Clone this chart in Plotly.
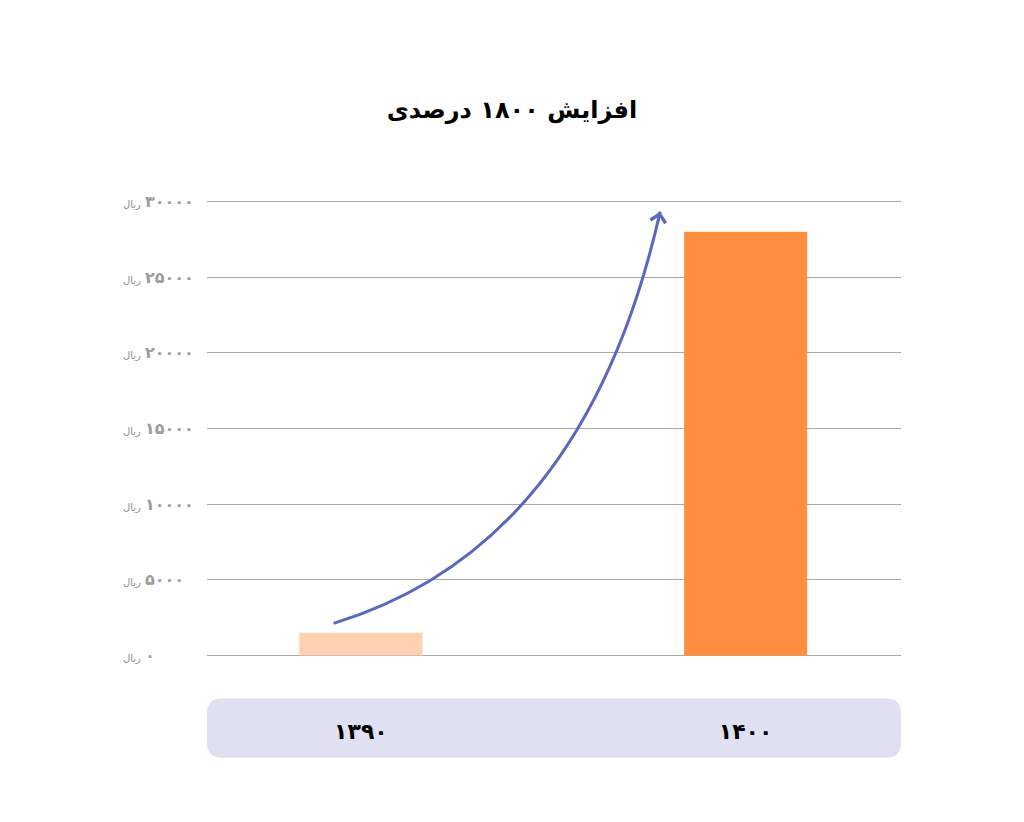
import plotly.graph_objects as go

# ---- data ----
categories = ["۱۳۹۰", "۱۴۰۰"]
values = [1500, 28000]
bar_colors = ["#ffd1b0", "#ff8f3e"]
y_tickvals = [0, 5000, 10000, 15000, 20000, 25000, 30000]
y_ticknums = ["۰", "۵۰۰۰", "۱۰۰۰۰", "۱۵۰۰۰", "۲۰۰۰۰", "۲۵۰۰۰", "۳۰۰۰۰"]
title_text = "افزایش ۱۸۰۰ درصدی"
unit = "ریال"

# arrow (decoration) in data units: start, control, end
arrow_x = [-0.071, 0.581, 0.778]
arrow_y = [2120, 7150, 29330]

W, H = 1024, 822
L, R = 207, 901
Y0PX, Y30PX = 655, 202
pad = 300
ppu = (Y0PX - Y30PX) / 30000
top = Y30PX - pad * ppu
bot = Y0PX + pad * ppu
ph = bot - top
pw = R - L

fig = go.Figure()
fig.add_trace(go.Bar(
    x=list(range(len(categories))), y=values,
    marker=dict(color=bar_colors, line=dict(width=0)),
    width=0.32, hoverinfo="skip",
))

def py(px):
    return (bot - px) / ph

def pxx(px):
    return (px - L) / pw

# y tick labels (left aligned): unit + number
for v, n in zip(y_tickvals, y_ticknums):
    fig.add_annotation(x=pxx(143), y=v, xref="paper", yref="y", text=f"<b>{n}</b>",
                       showarrow=False, xanchor="left", yanchor="middle",
                       font=dict(family="DejaVu Sans", size=16, color="#9c9c9c"))
    fig.add_annotation(x=pxx(121), y=v, xref="paper", yref="y", text=unit,
                       showarrow=False, xanchor="left", yanchor="middle", yshift=-3,
                       font=dict(family="DejaVu Sans", size=10, color="#8c8c8c"))

# rounded label band
x0, x1 = 0.0, 1.0
yt, yb = py(698), py(757)
rx = 15 / pw
ry = 15 / ph
path = (f"M{x0+rx},{yt} L{x1-rx},{yt} Q{x1},{yt} {x1},{yt-ry} "
        f"L{x1},{yb+ry} Q{x1},{yb} {x1-rx},{yb} L{x0+rx},{yb} "
        f"Q{x0},{yb} {x0},{yb+ry} L{x0},{yt-ry} Q{x0},{yt} {x0+rx},{yt} Z")
fig.add_shape(type="path", path=path, xref="paper", yref="paper",
              fillcolor="#dfe1f0", line=dict(width=0), layer="below")

# curved arrow
fig.add_shape(type="path", xref="x", yref="y",
              path=f"M{arrow_x[0]},{arrow_y[0]} Q{arrow_x[1]},{arrow_y[1]} {arrow_x[2]},{arrow_y[2]}",
              line=dict(color="#5a67bf", width=3))
fig.add_annotation(x=arrow_x[2], y=arrow_y[2], xref="x", yref="y",
                   ax=-3, ay=14, axref="pixel", ayref="pixel",
                   showarrow=True, arrowhead=4, arrowsize=1.2, arrowwidth=2.5,
                   arrowcolor="#5a67bf", text="")

fig.update_layout(
    width=W, height=H,
    margin=dict(l=L, r=W - R, t=top, b=H - bot, pad=0),
    paper_bgcolor="white", plot_bgcolor="white",
    showlegend=False,
    title=dict(text=f"<b>{title_text}</b>", x=0.5, xref="container",
               y=1 - 110 / H, yref="container", yanchor="middle", xanchor="center",
               font=dict(family="DejaVu Sans", size=24, color="black")),
    xaxis=dict(range=[-0.4, 1.404], tickvals=list(range(len(categories))),
               ticktext=[f"<b>{c}</b>" for c in categories],
               showgrid=False, zeroline=False, showline=False, ticks="",
               ticklabelstandoff=56,
               tickfont=dict(family="DejaVu Sans", size=22, color="black")),
    yaxis=dict(range=[-pad, 30000 + pad], tickvals=y_tickvals, showticklabels=False,
               showgrid=True, gridcolor="#a8a8a8", gridwidth=1,
               zeroline=False, showline=False, ticks=""),
    font=dict(family="DejaVu Sans"),
)
fig.write_html("out.html")
